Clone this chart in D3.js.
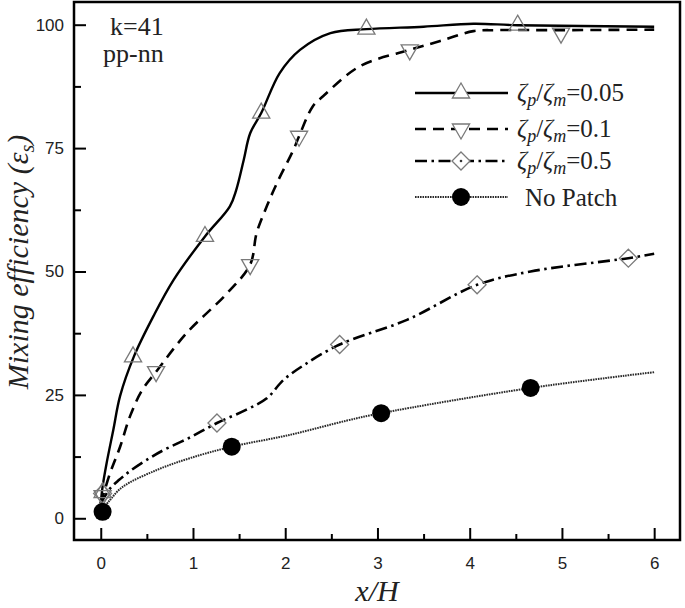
<!DOCTYPE html>
<meta charset="utf-8">
<style>
body { margin: 0; background: #fff; }
.tick text { font-family: "Liberation Sans", Arial, sans-serif; font-size: 17px; fill: #222; }
.tick line { stroke: #000; stroke-width: 2; }
.serif { font-family: "Liberation Serif", "Times New Roman", serif; fill: #222; }
.mark { fill: none; stroke: #7a7a7a; stroke-width: 1.3; }
</style>
<svg id="chart" width="685" height="608"></svg>
<script src="https://cdn.jsdelivr.net/npm/d3@7"></script>
<script>
// values: [x/H, mixing efficiency]
var xTicks = [0, 1, 2, 3, 4, 5, 6];
var xMinor = [0.5, 1.5, 2.5, 3.5, 4.5, 5.5];
var yTicks = [0, 25, 50, 75, 100];
var yMinor = [12.5, 37.5, 62.5, 87.5];

var line005 = [[0,3],[0.02,6.4],[0.064,11.2],[0.136,17.9],[0.21,24.8],[0.36,32.8],[0.57,40.9],[0.79,48.3],
  [1.13,57.1],[1.40,63.2],[1.47,66.6],[1.55,72.6],[1.62,78],[1.74,82.1],[1.94,90.2],[2.16,94.9],[2.49,98.3],
  [2.88,99.1],[3.5,99.6],[4.04,100.2],[4.52,99.9],[6.0,99.6]];
var line01 = [[0,3],[0.1,9.1],[0.21,14.5],[0.32,20.8],[0.45,26.0],[0.6,29.7],[0.93,37.5],[1.37,45.6],[1.62,51.4],
  [1.69,57.8],[1.80,63.2],[1.91,67.9],[2.09,74.7],[2.15,77.4],[2.30,83.5],[2.41,85.5],[2.81,91.6],[3.35,94.9],
  [3.68,96.7],[4.04,98.7],[4.29,98.9],[5,98.9],[6,99]];
var line05 = [[0,3],[0.1,6],[0.2,7.8],[0.32,9.6],[0.53,12.2],[0.68,13.8],[0.97,16.4],[1.26,19.3],[1.58,22.0],
  [1.80,24.3],[1.98,28.0],[2.2,31],[2.59,35.2],[3.32,40.2],[4.08,47.3],[4.66,50.0],[5.72,52.7],[6.0,53.6]];
var lineNone = [[0,1.3],[0.1,3.7],[0.24,6.4],[0.61,9.8],[0.97,12.2],[1.42,14.5],[2.05,16.9],[2.67,19.8],
  [3.04,21.3],[4.66,26.4],[6.0,29.6]];

var mark005 = [[0.02,5.2],[0.35,32.7],[1.13,57.1],[1.74,82.1],[2.88,99.1],[4.52,99.9]];
var mark01 = [[0.02,4.6],[0.6,29.7],[1.62,51.4],[2.15,77.4],[3.35,94.9],[4.99,98.3]];
var mark05 = [[0.02,5],[1.26,19.3],[2.59,35.2],[4.08,47.3],[5.72,52.7]];
var markNone = [[0.02,1.3],[1.42,14.5],[3.04,21.3],[4.66,26.4]];

var legendLabels = ["0.05", "0.1", "0.5"];

var svg = d3.select("#chart");
var x = d3.scaleLinear().domain([-0.29, 6.28]).range([74, 680]);
var y = d3.scaleLinear().domain([-4.4, 104.6]).range([540, 2]);

// ticks, pointing inwards
var gx = svg.append("g").attr("transform", "translate(0,540)")
  .call(d3.axisBottom(x).tickValues(xTicks).tickSize(-12).tickFormat(d3.format("d")));
gx.selectAll("text").attr("y", 17);
svg.append("g").attr("transform", "translate(0,540)")
  .call(d3.axisBottom(x).tickValues(xMinor).tickSize(-6).tickFormat(""));
var gy = svg.append("g").attr("transform", "translate(74,0)")
  .call(d3.axisLeft(y).tickValues(yTicks).tickSize(-12).tickFormat(d3.format("d")));
gy.selectAll("text").attr("x", -10);
svg.append("g").attr("transform", "translate(74,0)")
  .call(d3.axisLeft(y).tickValues(yMinor).tickSize(-7).tickFormat(""));
svg.selectAll(".domain").remove();

// frame
svg.append("rect")
  .attr("x", x.range()[0]).attr("y", y.range()[1])
  .attr("width", x.range()[1] - x.range()[0]).attr("height", y.range()[0] - y.range()[1])
  .attr("fill", "none").attr("stroke", "#000").attr("stroke-width", 2.5);

var line = d3.line().x(function(d) { return x(d[0]); }).y(function(d) { return y(d[1]); })
  .curve(d3.curveCatmullRom.alpha(0.5));

var styles = [
  {data: line005, dash: null, w: 2.4, col: "#000"},
  {data: line01, dash: "11,7", w: 2.6, col: "#000"},
  {data: line05, dash: "12,4.5,2.5,4.5", w: 2.6, col: "#000"},
  {data: lineNone, dash: "1.6,0.9", w: 2, col: "#2a2a2a"}
];
styles.forEach(function(s) {
  svg.append("path").datum(s.data).attr("d", line)
    .attr("fill", "none").attr("stroke", s.col).attr("stroke-width", s.w)
    .attr("stroke-dasharray", s.dash);
});

// marker shapes
var triUp = "M0,-10L8.6,5L-8.6,5Z";
var triDown = "M0,10L8.6,-5L-8.6,-5Z";
var diamond = "M0,-9L9,0L0,9L-9,0Z";

function marks(data, shape) {
  svg.append("g").selectAll("path").data(data).enter().append("path")
    .attr("class", "mark").attr("d", shape)
    .attr("transform", function(d) { return "translate(" + x(d[0]) + "," + y(d[1]) + ")"; });
}
marks(mark005, triUp);
marks(mark01, triDown);
marks(mark05, diamond);
svg.append("g").selectAll("circle").data(markNone).enter().append("circle")
  .attr("cx", function(d) { return x(d[0]); }).attr("cy", function(d) { return y(d[1]); })
  .attr("r", 9).attr("fill", "#000");

// legend
var legY = [93, 129, 161, 197];
var shapes = [triUp, triDown, diamond];
styles.forEach(function(s, i) {
  svg.append("line").attr("x1", 415).attr("x2", 508).attr("y1", legY[i]).attr("y2", legY[i])
    .attr("stroke", s.col).attr("stroke-width", s.w).attr("stroke-dasharray", s.dash);
  if (i < 3) {
    svg.append("path").attr("class", "mark").attr("d", shapes[i])
      .attr("transform", "translate(461," + legY[i] + ")").style("fill", "#fff");
    if (i == 2) svg.append("circle").attr("cx", 461).attr("cy", legY[i]).attr("r", 1.3).attr("fill", "#333");
    var t = svg.append("text").attr("class", "serif").attr("x", 517).attr("y", legY[i] + 8)
      .style("font-size", "25px");
    t.append("tspan").style("font-style", "italic").text("ζ");
    t.append("tspan").style("font-style", "italic").style("font-size", "18px").attr("dy", 5).text("p");
    t.append("tspan").attr("dy", -5).text("/");
    t.append("tspan").style("font-style", "italic").text("ζ");
    t.append("tspan").style("font-style", "italic").style("font-size", "18px").attr("dy", 5).text("m");
    t.append("tspan").attr("dy", -5).text("=" + legendLabels[i]);
  } else {
    svg.append("circle").attr("cx", 461).attr("cy", legY[i]).attr("r", 9).attr("fill", "#000");
    svg.append("text").attr("class", "serif").attr("x", 525).attr("y", legY[i] + 9)
      .style("font-size", "25px").text("No Patch");
  }
});

// annotations
svg.append("text").attr("class", "serif").attr("x", 110).attr("y", 35).style("font-size", "26px").text("k=41");
svg.append("text").attr("class", "serif").attr("x", 103).attr("y", 62).style("font-size", "26px").text("pp-nn");

// axis titles
svg.append("text").attr("class", "serif").attr("x", 377).attr("y", 601)
  .attr("text-anchor", "middle").style("font-size", "30px").style("font-style", "italic").text("x/H");
var yt = svg.append("text").attr("class", "serif")
  .attr("transform", "translate(28,262) rotate(-90)").attr("text-anchor", "middle")
  .style("font-size", "30px").style("font-style", "italic");
yt.append("tspan").text("Mixing efficiency (ε");
yt.append("tspan").style("font-size", "20px").attr("dy", 6).text("s");
yt.append("tspan").attr("dy", -6).text(")");
</script>
